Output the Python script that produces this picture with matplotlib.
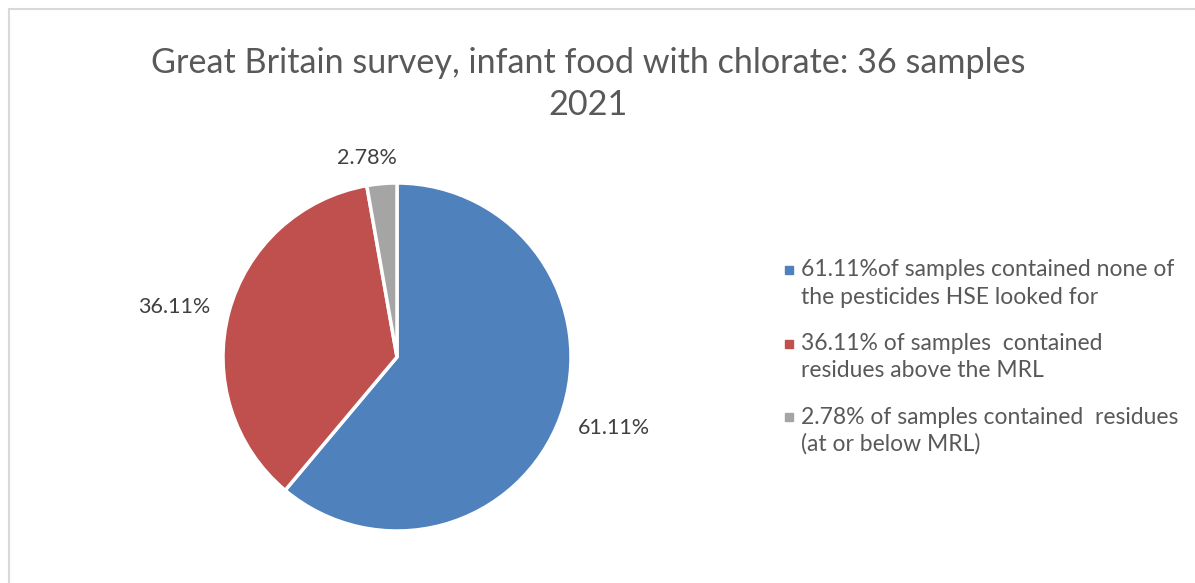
import numpy as np
import matplotlib.pyplot as plt
from matplotlib.patches import Rectangle

# data
counts = [22, 13, 1]  # out of 36 samples
legend_labels = [
    "61.11%of samples contained none of\nthe pesticides HSE looked for",
    "36.11% of samples  contained\nresidues above the MRL",
    "2.78% of samples contained  residues\n(at or below MRL)",
]
colors = ['#4F81BD', '#C0504D', '#A5A5A5']
title = "Great Britain survey, infant food with chlorate: 36 samples\n2021"

W, H = 1195, 583
plt.rcParams['font.family'] = ['Lato', 'DejaVu Sans']

fig = plt.figure(figsize=(W / 100, H / 100), dpi=100)
ax = fig.add_axes([0, 0, 1, 1])

# chart frame
ax.add_patch(Rectangle((9, -5), W, H - 9 + 5, fill=False, edgecolor='#D9D9D9', linewidth=1.5))

# pie
cx, cy, r = 397, H - 357, 174
wedges, _ = ax.pie(counts, colors=colors, startangle=90, counterclock=False,
                   center=(cx, cy), radius=r, frame=True,
                   wedgeprops=dict(edgecolor='white', linewidth=2.5))
ax.set_xlim(0, W)
ax.set_ylim(0, H)
ax.set_aspect('equal')
ax.axis('off')

# data labels (best-fit style placement)
total = sum(counts)
dist = [1.31, 1.31, 1.16]
offs = [(3, 7), (-3, -9), (-12, -2)]
for w, c, d, (ox, oy) in zip(wedges, counts, dist, offs):
    ang = np.deg2rad((w.theta1 + w.theta2) / 2)
    ax.text(cx + d * r * np.cos(ang) + ox, cy + d * r * np.sin(ang) + oy,
            f"{100 * c / total:.2f}%", ha='center', va='center',
            fontsize=15.5, color='#404040')

# title
lines = title.split('\n')
ax.text(588, H - 63, lines[0], ha='center', va='center', fontsize=24.6, color='#595959')
ax.text(588, H - 105, lines[1], ha='center', va='center', fontsize=24.6, color='#595959')

# legend
y0 = 270
for i, (lab, col) in enumerate(zip(legend_labels, colors)):
    yy = y0 + i * 73.5
    ax.add_patch(Rectangle((785, H - yy - 4), 8, 8, color=col))
    for j, part in enumerate(lab.split('\n')):
        ax.text(801, H - yy - j * 27, part, ha='left', va='center',
                fontsize=16.5, color='#595959')

fig.savefig('out.png', dpi=100)
